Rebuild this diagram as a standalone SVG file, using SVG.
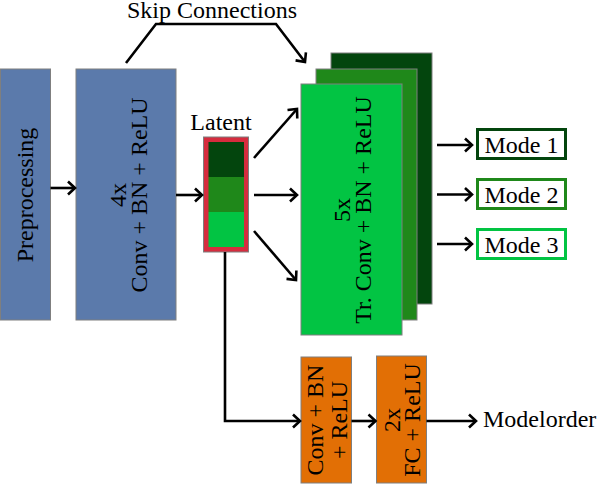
<svg xmlns="http://www.w3.org/2000/svg" width="598" height="486" viewBox="0 0 598 486">
<defs>
<style>
text{font-family:"Liberation Serif","Times New Roman",serif;font-size:24px;fill:#000}
.c{text-anchor:middle}
.box{stroke:#7f7f7f;stroke-width:1}
.blue{fill:#5b7aab}
.dk{fill:#03450d}
.md{fill:#1f881a}
.lt{fill:#02c443}
.or{fill:#e26f05}
.ln{fill:none;stroke:#000;stroke-width:2.6;marker-end:url(#ah)}
</style>
<marker id="ah" markerUnits="userSpaceOnUse" markerWidth="20" markerHeight="20" viewBox="-10 -10 20 20" refX="0" refY="0" orient="auto">
<path d="M-7,-6.5 L0,0 L-7,6.5" fill="none" stroke="#000" stroke-width="2.6"/>
</marker>
</defs>

<g id="preprocessing">
<rect class="box blue" x="0.5" y="69" width="50" height="251"/>
<text class="c" transform="translate(33,195) rotate(-90)">Preprocessing</text>
</g>

<g id="encoder">
<rect class="box blue" x="76" y="69" width="100" height="251"/>
<text class="c" transform="translate(126,195) rotate(-90)">4x</text>
<text class="c" transform="translate(147,195) rotate(-90)">Conv + BN + ReLU</text>
</g>

<g id="latent">
<text class="c" x="221" y="130">Latent</text>
<rect x="203.5" y="137" width="45" height="115" fill="#d62c3e" stroke="#7f7f7f" stroke-width="1"/>
<rect class="dk" x="208.5" y="142" width="35.5" height="35"/>
<rect class="md" x="208.5" y="177" width="35.5" height="35"/>
<rect class="lt" x="208.5" y="212" width="35.5" height="35"/>
</g>

<g id="decoder">
<rect class="box dk" x="331" y="53" width="101" height="251"/>
<rect class="box md" x="316" y="69" width="101" height="251"/>
<rect class="box lt" x="301" y="84" width="101" height="251"/>
<text class="c" transform="translate(350,210) rotate(-90)">5x</text>
<text class="c" transform="translate(371,210) rotate(-90)">Tr. Conv + BN + ReLU</text>
</g>

<g id="mode1">
<rect x="477.5" y="129.5" width="88" height="29" fill="#fff" stroke="#03450d" stroke-width="3"/>
<text class="c" x="521.5" y="153">Mode 1</text>
</g>
<g id="mode2">
<rect x="477.5" y="179.5" width="88" height="29" fill="#fff" stroke="#1f881a" stroke-width="3"/>
<text class="c" x="521.5" y="203">Mode 2</text>
</g>
<g id="mode3">
<rect x="477.5" y="229.5" width="88" height="29" fill="#fff" stroke="#02c443" stroke-width="3"/>
<text class="c" x="521.5" y="253">Mode 3</text>
</g>

<g id="conv-bn-relu">
<rect class="box or" x="301" y="357" width="50.5" height="126"/>
<text class="c" transform="translate(323,420) rotate(-90)">Conv + BN</text>
<text class="c" transform="translate(347,420) rotate(-90)">+ ReLU</text>
</g>

<g id="fc-relu">
<rect class="box or" x="376.5" y="356" width="50" height="127"/>
<text class="c" transform="translate(400,420) rotate(-90)">2x</text>
<text class="c" transform="translate(420,420) rotate(-90)">FC + ReLU</text>
</g>

<g id="modelorder">
<text x="483" y="427">Modelorder</text>
</g>

<g id="skip-label">
<text x="127" y="18">Skip Connections</text>
</g>

<g id="connectors">
<line class="ln" x1="50.5" y1="188" x2="75" y2="188"/>
<line class="ln" x1="176" y1="195" x2="202" y2="195"/>
<line class="ln" x1="254" y1="158" x2="297" y2="109"/>
<line class="ln" x1="254" y1="195" x2="297" y2="195"/>
<line class="ln" x1="254" y1="231" x2="296" y2="280"/>
<polyline class="ln" points="126,63 156,24 276,24 305,62"/>
<line class="ln" x1="437" y1="145" x2="472" y2="145"/>
<line class="ln" x1="437" y1="194.5" x2="472" y2="194.5"/>
<line class="ln" x1="437" y1="244" x2="472" y2="244"/>
<polyline class="ln" points="225,252 225,421 300,421"/>
<line class="ln" x1="351.5" y1="421" x2="375.5" y2="421"/>
<line class="ln" x1="426.5" y1="421" x2="476" y2="421"/>
</g>
</svg>
